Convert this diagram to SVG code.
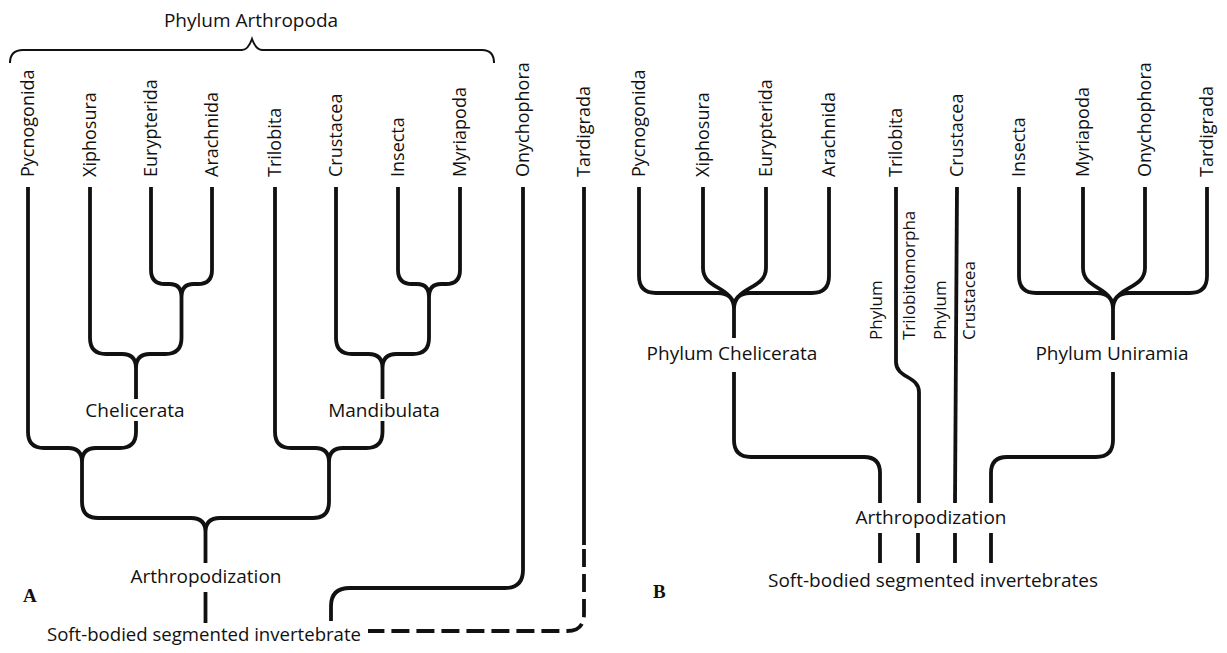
<svg xmlns="http://www.w3.org/2000/svg" width="1227" height="653" viewBox="0 0 1227 653">
<style>
text{font-family:"Open Sans","DejaVu Sans",sans-serif;font-size:18px;fill:#111}
.h{font-size:19px}
.m{font-size:17px}
.c{text-anchor:middle}
.ln{fill:none;stroke:#111;stroke-width:3.8;stroke-linejoin:round}
.br{fill:none;stroke:#111;stroke-width:2}
.dash{stroke-dasharray:18 7}
.lt{font-family:"Liberation Serif",serif;font-weight:bold;font-size:19px}
</style>
<rect width="1227" height="653" fill="#fff"/>
<g id="connectors">
<path class="br" d="M10,63 Q10,50 23,50 L242,50 Q248,50 252,39 Q256,50 262,50 L482,50 Q494,50 494,63"/>
<path class="ln" d="M151,187 V270 Q151,284 165,284 H169.5 Q181.5,284 181.5,297 M212,187 V270 Q212,284 198,284 H193.5 Q181.5,284 181.5,297 V338 Q181.5,354 165.5,354 H150 Q136,354 136,368 V399 M90,187 V338 Q90,354 106,354 H122 Q136,354 136,368"/>
<path class="ln" d="M136,421 V432 Q136,448 120,448 H96 Q82,448 82,462 M28,187 V432 Q28,448 44,448 H68 Q82,448 82,462"/>
<path class="ln" d="M398,187 V270 Q398,284 412,284 H417 Q429,284 429,297 M460,187 V270 Q460,284 446,284 H441 Q429,284 429,297 V338 Q429,354 413,354 H396.5 Q382.5,354 382.5,368 V399 M336,187 V338 Q336,354 352,354 H368.5 Q382.5,354 382.5,368"/>
<path class="ln" d="M382.5,421 V432 Q382.5,448 366.5,448 H343 Q329,448 329,462 M275,187 V432 Q275,448 291,448 H315 Q329,448 329,462"/>
<path class="ln" d="M82,462 V502 Q82,518 98,518 H191 Q205.5,518 205.5,532 V563 M329,462 V502 Q329,518 313,518 H220 Q205.5,518 205.5,532"/>
<path class="ln" d="M205.5,592 V623"/>
<path class="ln" d="M523,187 V570 Q523,588 505,588 H350 Q331,588 331,606 V621"/>
<path class="ln" d="M584,187 V545"/>
<path class="ln dash" d="M584,549 V614 Q584,631 567,631 H368"/>
<path class="ln" d="M639,187 V276 Q639,293 656,293 H718 Q734,293 734,309 M829,187 V276 Q829,293 812,293 H750 Q734,293 734,309 M703,187 V268 C703,290 734,286 734,309 M766,187 V268 C766,290 734,286 734,309 M734,305 V338"/>
<path class="ln" d="M734,372 V440 Q734,457 751,457 H864 Q880,457 880,473 V503"/>
<path class="ln" d="M896,187 V362 C896,378 919,376 919,392 V503"/>
<path class="ln" d="M957,187 L955,503"/>
<path class="ln" d="M1019,187 V276 Q1019,293 1036,293 H1097 Q1113,293 1113,309 M1207,187 V276 Q1207,293 1190,293 H1129 Q1113,293 1113,309 M1083,187 V268 C1083,290 1113,286 1113,309 M1145,187 V268 C1145,290 1113,286 1113,309 M1113,305 V340"/>
<path class="ln" d="M1113,372 V440 Q1113,457 1096,457 H1007 Q991,457 991,473 V503"/>
<path class="ln" d="M880,533 V563 M918,533 V563 M955,533 V563 M991,533 V563"/>
</g>
<g id="title-arthropoda"><text class="c h" x="251" y="27">Phylum Arthropoda</text></g>
<g id="a-pycnogonida"><text transform="translate(34,177) rotate(-90)">Pycnogonida</text></g>
<g id="a-xiphosura"><text transform="translate(96,177) rotate(-90)">Xiphosura</text></g>
<g id="a-eurypterida"><text transform="translate(157,177) rotate(-90)">Eurypterida</text></g>
<g id="a-arachnida"><text transform="translate(218,177) rotate(-90)">Arachnida</text></g>
<g id="a-trilobita"><text transform="translate(281,177) rotate(-90)">Trilobita</text></g>
<g id="a-crustacea"><text transform="translate(342,177) rotate(-90)">Crustacea</text></g>
<g id="a-insecta"><text transform="translate(404,177) rotate(-90)">Insecta</text></g>
<g id="a-myriapoda"><text transform="translate(466,177) rotate(-90)">Myriapoda</text></g>
<g id="a-onychophora"><text transform="translate(529,177) rotate(-90)">Onychophora</text></g>
<g id="a-tardigrada"><text transform="translate(590,177) rotate(-90)">Tardigrada</text></g>
<g id="a-chelicerata"><text class="c h" x="135" y="417">Chelicerata</text></g>
<g id="a-mandibulata"><text class="c h" x="384" y="417">Mandibulata</text></g>
<g id="a-arthropodization"><text class="c h" x="206" y="583">Arthropodization</text></g>
<g id="a-soft"><text class="h" x="47" y="641" textLength="314" lengthAdjust="spacingAndGlyphs">Soft-bodied segmented invertebrate</text></g>
<g id="label-a"><text class="lt" x="23" y="602">A</text></g>
<g id="b-pycnogonida"><text transform="translate(645,177) rotate(-90)">Pycnogonida</text></g>
<g id="b-xiphosura"><text transform="translate(709,177) rotate(-90)">Xiphosura</text></g>
<g id="b-eurypterida"><text transform="translate(772,177) rotate(-90)">Eurypterida</text></g>
<g id="b-arachnida"><text transform="translate(835,177) rotate(-90)">Arachnida</text></g>
<g id="b-trilobita"><text transform="translate(902,177) rotate(-90)">Trilobita</text></g>
<g id="b-crustacea"><text transform="translate(963,177) rotate(-90)">Crustacea</text></g>
<g id="b-insecta"><text transform="translate(1025,177) rotate(-90)">Insecta</text></g>
<g id="b-myriapoda"><text transform="translate(1089,177) rotate(-90)">Myriapoda</text></g>
<g id="b-onychophora"><text transform="translate(1151,177) rotate(-90)">Onychophora</text></g>
<g id="b-tardigrada"><text transform="translate(1213,177) rotate(-90)">Tardigrada</text></g>
<g id="b-phylum-trilobitomorpha"><text class="m" transform="translate(882,340) rotate(-90)">Phylum</text><text class="m" transform="translate(915,340) rotate(-90)">Trilobitomorpha</text></g>
<g id="b-phylum-crustacea"><text class="m" transform="translate(946,340) rotate(-90)">Phylum</text><text class="m" transform="translate(975,340) rotate(-90)">Crustacea</text></g>
<g id="b-chelicerata"><text class="c h" x="732" y="360">Phylum Chelicerata</text></g>
<g id="b-uniramia"><text class="c h" x="1112" y="360">Phylum Uniramia</text></g>
<g id="b-arthropodization"><text class="c h" x="931" y="524">Arthropodization</text></g>
<g id="b-soft"><text class="c h" x="933" y="587">Soft-bodied segmented invertebrates</text></g>
<g id="label-b"><text class="lt" x="653" y="598">B</text></g>
</svg>
